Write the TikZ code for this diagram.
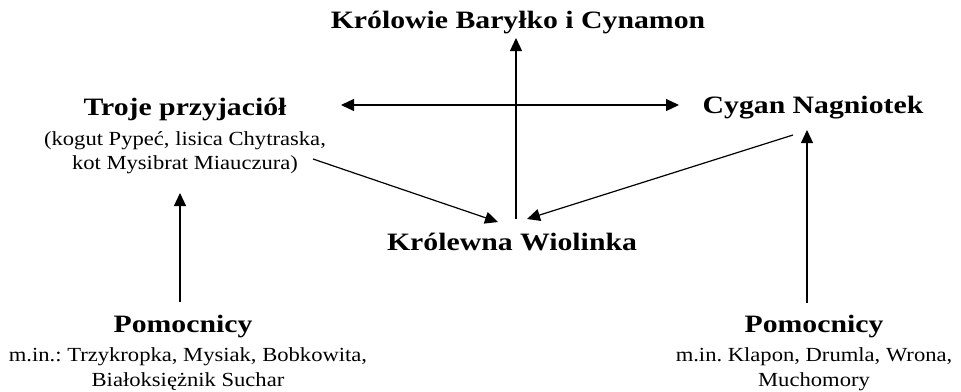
\documentclass[tikz,border=0pt]{standalone}
\usepackage{fontspec}
\setmainfont[FakeStretch=1.13,BoldFeatures={FakeStretch=1.19}]{Liberation Serif}
\frenchspacing
\usetikzlibrary{arrows.meta}
\begin{document}
\begin{tikzpicture}[x=1pt,y=-1pt,
  title/.style={font=\fontsize{25}{29}\selectfont\bfseries, inner sep=0pt, anchor=base},
  sub/.style={font=\fontsize{20}{24}\selectfont, inner sep=0pt, anchor=base, align=center},
  conn/.style={line width=1.2pt, -{Triangle[length=13pt,width=12pt]}},
  both/.style={line width=1.2pt, {Triangle[length=13pt,width=12pt]}-{Triangle[length=13pt,width=12pt]}}]
\useasboundingbox (0,0) rectangle (961,391);
\node[title] (krol) at (518,28) {Królowie Baryłko i Cynamon};
\node[title] (troje) at (185,115) {Troje przyjaciół};
\node[sub] (troje2) at (185,145) {(kogut Pypeć, lisica Chytraska,};
\node[sub] (troje3) at (185,169) {kot Mysibrat Miauczura)};
\node[title] (cygan) at (813,113) {Cygan Nagniotek};
\node[title] (wiol) at (512,250) {Królewna Wiolinka};
\node[title] (pomL) at (183,332) {Pomocnicy};
\node[sub] (pomL2) at (188,361) {m.in.: Trzykropka, Mysiak, Bobkowita,};
\node[sub] (pomL3) at (188,386) {Białoksiężnik Suchar};
\node[title] (pomR) at (814,332) {Pomocnicy};
\node[sub] (pomR2) at (814,361) {m.in. Klapon, Drumla, Wrona,};
\node[sub] (pomR3) at (814,386) {Muchomory};
\coordinate (vbot) at (516,219);
\coordinate (vtop) at (516,38);
\coordinate (hl) at (341,105);
\coordinate (hr) at (679,105);
\coordinate (lstart) at (313,159);
\coordinate (ltip) at (498,222);
\coordinate (rstart) at (793,135);
\coordinate (rtip) at (527,219);
\coordinate (rvb) at (807,303);
\coordinate (rvt) at (807,130);
\coordinate (lvb) at (180,302);
\coordinate (lvt) at (180,193);
\draw[conn] (vbot) -- (vtop);
\draw[both] (hl) -- (hr);
\draw[conn] (lstart) -- (ltip);
\draw[conn] (rstart) -- (rtip);
\draw[conn] (rvb) -- (rvt);
\draw[conn] (lvb) -- (lvt);
\end{tikzpicture}
\end{document}
